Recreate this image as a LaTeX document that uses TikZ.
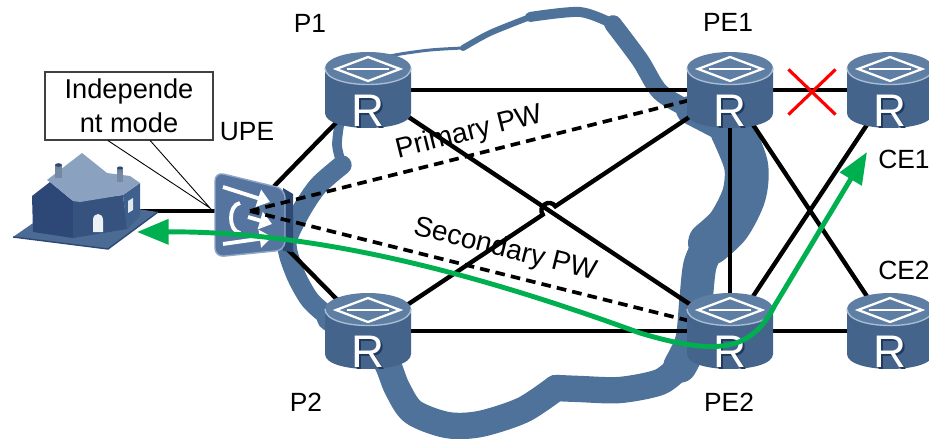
\documentclass[tikz,border=0pt]{standalone}
\usepackage{fontspec}
\setmainfont{Liberation Sans}
\usetikzlibrary{calc,arrows.meta,shapes.misc}

\definecolor{cloudblue}{HTML}{4E7299}
\definecolor{routertop}{HTML}{5E7EA4}
\definecolor{routerside}{HTML}{45648C}
\definecolor{routerrim}{HTML}{A9BDD3}
\definecolor{routershadow}{HTML}{213A5C}
\definecolor{upefront}{HTML}{5674A0}
\definecolor{upeside}{HTML}{2E4A74}
\definecolor{upeedge}{HTML}{8FA7C6}
\definecolor{pathgreen}{HTML}{00B050}
\definecolor{roofgrey}{HTML}{8AA2BF}
\definecolor{walldark}{HTML}{2D4877}
\definecolor{wallmid}{HTML}{36527F}
\definecolor{wallside}{HTML}{3F5F8C}
\definecolor{plateblue}{HTML}{4B6B95}

\tikzset{
  link/.style={line width=2.5pt},
  pw/.style={line width=2.1pt, dash pattern=on 5.5pt off 3.5pt},
  lbl/.style={font=\fontsize{15}{18}\selectfont},
  pwlbl/.style={font=\fontsize{16}{19}\selectfont},
  band/.style={cloudblue, line cap=round, line join=round},
  notebox/.style={draw=black!75, line width=0.6pt, fill=white, align=center,
    minimum width=3.36cm, minimum height=1.36cm, inner sep=0pt,
    font=\fontsize{15.5}{19.3}\selectfont},
  upearrow/.style={white, line width=2.2pt, -{Triangle[length=7pt,width=10pt]}},
  router/.pic={
    \fill[routerside] (-43,-22) -- (-43,23) .. controls (-43,43) and (43,43) .. (43,23) -- (43,-22) -- cycle;
    \fill[routertop] (0,-22) ellipse [x radius=43, y radius=16];
    \draw[routerrim, line width=0.8pt] (-43,-22) .. controls (-43,0) and (43,0) .. (43,-22);
    \draw[white, line width=1.3pt, line join=miter] (-32,-21) -- (0,-33) -- (32,-21) -- (0,-9) -- cycle;
    \draw[white, line width=1.3pt] (-21,-21) -- (21,-21);
    \node[text=routershadow, font=\fontsize{26}{26}\selectfont] at (1.5,22.5) {R};
    \node[text=white, font=\fontsize{26}{26}\selectfont] at (0,21) {R};
  },
  upe/.pic={
    \fill[upeside] (33,-23) -- (43,-17) -- (43,41) -- (33,40) -- cycle;
    \fill[upefront, draw=upeedge, line width=0.8pt, rounded corners=5pt] (-35,-39) -- (35,-22) -- (35,39) -- (-35,46) -- cycle;
    \draw[upearrow] (-27,-24) -- (20,-9);
    \draw[upearrow] (-2,6) -- (22,13);
    \draw[upearrow] (-27,33) -- (22,26);
    \draw[white, line width=2.2pt] (-10,-8) .. controls (-22,-6) and (-22,20) .. (-10,22);
  },
  house/.pic={
    \fill[plateblue] (-75,26) -- (20,38) -- (70,1) -- (-20,-12) -- cycle;
    \draw[walldark, line width=0.8pt] (-75,26) -- (20,38) -- (70,1);
    \fill[walldark] (-56,-15) -- (-38,-29) -- (-15,-10) -- (-15,27) -- (-55,21) -- cycle;
    \fill[wallmid] (-15,-10) -- (35,-16) -- (39,18) -- (-15,27) -- cycle;
    \fill[wallside] (35,-16) -- (52,-28) -- (52,5) -- (39,18) -- cycle;
    \fill[roofgrey!80!black] (-33,-46) rectangle (-26,-29);
    \fill[roofgrey!80!black] (29,-43) rectangle (35,-25);
    \fill[roofgrey] (-41,-31) -- (-6,-58) -- (19,-38) -- (42,-35) -- (52,-28) -- (35,-16) -- (-8,-9) -- (-15,-10) -- (-38,-29) -- cycle;
    \fill[roofgrey!85!black] (-33,-42) rectangle (-26,-33);
    \fill[roofgrey!85!black] (29,-39) rectangle (35,-29);
    \fill[walldark] (-29.5,-46) ellipse [x radius=3.5, y radius=1.8];
    \fill[walldark] (32,-43) ellipse [x radius=3, y radius=1.6];
    \fill[white!85!roofgrey] (5,21) -- (5,9) .. controls (5,1) and (15,1) .. (15,9) -- (15,21) -- cycle;
    \fill[white!75!roofgrey] (40,-10) -- (45,-13) -- (45,-1) -- (40,2) -- cycle;
  }
}

\begin{document}
\begin{tikzpicture}[x=0.02cm, y=-0.02cm]
  \useasboundingbox (0,0) rectangle (929,439);

  %%%%% devices %%%%%
  \coordinate (P1) at (368,90);
  \coordinate (P2) at (368,331);
  \coordinate (PE1) at (730,90);
  \coordinate (PE2) at (730,331);
  \coordinate (CE1) at (890,90);
  \coordinate (CE2) at (890,331);
  \coordinate (UPE) at (250,211);
  \coordinate (house) at (88,211);

  %%%%% cloud %%%%%
  \draw[band, line width=1.7pt] plot[smooth] coordinates {(340,120) (348,85) (370,62) (395,55) (430,50) (463,48)};
  \draw[band, line width=3.4pt] plot[smooth] coordinates {(463,48) (490,33) (530,17)};
  \draw[band, line width=5.7pt] plot[smooth] coordinates {(530,17) (580,12) (613,24)};
  \draw[band, line width=10pt] plot[smooth] coordinates {(613,24) (640,60) (660,92) (690,110)};
  \draw[band, line width=16pt] plot[smooth] coordinates {(690,110) (738,135)};
  \draw[band, line width=25pt] plot[smooth] coordinates {(732,130) (746,165) (744,195) (729,225) (710,243)};
  \draw[band, line width=19pt] plot[smooth] coordinates {(710,243) (700,265) (696,300) (692,340) (680,366)};
  \draw[band, line width=15pt] plot[smooth] coordinates {(680,366) (660,382) (620,390) (580,389) (556,388)};
  \draw[band, line width=15pt] plot[smooth] coordinates {(556,388) (523,410) (480,424) (447,425) (413,412) (397,388) (385,360) (360,338) (330,318)};
  \draw[band, line width=11pt] plot[smooth] coordinates {(330,318) (310,300) (295,273) (287,243) (300,213) (318,186) (342,165)};
  \draw[band, line width=5.5pt] plot[smooth] coordinates {(342,165) (337,145) (340,120)};

  %%%%% links %%%%%
  \coordinate (X) at ($(P2)!0.5!(PE1)$);
  \coordinate (hopA) at ($(X)!0.15cm!(P2)$);
  \coordinate (hopB) at ($(X)!0.15cm!(PE1)$);

  \draw[link] (house) -- (UPE);
  \draw[link] (UPE) -- (P1);
  \draw[link] (UPE) -- (P2);
  \draw[link] (P1) -- (PE1);
  \draw[link] (P2) -- (PE2);
  \draw[link] (P1) -- (PE2);
  \draw[link] (P2) -- (hopA) to[bend left=90, looseness=1.7] (hopB) -- (PE1);
  \draw[link] (PE1) -- (PE2);
  \draw[link] (PE1) -- (CE1);
  \draw[link] (PE2) -- (CE2);
  \draw[link] (PE1) -- (CE2);
  \draw[link] (PE2) -- (CE1);

  \pic at (UPE) {upe};

  \draw[pw] (UPE) -- (PE1);
  \draw[pw] (UPE) -- (PE2);

  \pic at (P1) {router};
  \pic at (P2) {router};
  \pic at (PE1) {router};
  \pic at (PE2) {router};
  \pic at (CE1) {router};
  \pic at (CE2) {router};

  \pic at (house) {house};

  \node[cross out, draw=red, line width=1.8pt, minimum width=0.88cm, minimum height=0.84cm] (cut) at (812,92) {};

  %%%%% traffic path %%%%%
  \coordinate (gHouse) at (137,232);
  \coordinate (gCE) at (867,152);
  \draw[pathgreen, line width=2.8pt, {Triangle[length=18pt,width=14pt]}-{Triangle[length=18pt,width=14pt]}]
    (gHouse) .. controls (330,231) and (500,282) .. (640,333) .. controls (720,357) and (752,350) .. (775,305) -- (gCE);

  %%%%% labels %%%%%
  \node[pwlbl, rotate=14] (lprim) at (469,133) {Primary PW};
  \node[pwlbl, rotate=-14] (lsec) at (505,250) {Secondary PW};

  \node[lbl] (lP1) at (310,23) {P1};
  \node[lbl] (lP2) at (306,402) {P2};
  \node[lbl] (lPE1) at (728,22) {PE1};
  \node[lbl] (lPE2) at (729,402) {PE2};
  \node[lbl, anchor=west, inner sep=0pt] (lCE1) at (878,159) {CE1};
  \node[lbl, anchor=west, inner sep=0pt] (lCE2) at (878,270) {CE2};
  \node[lbl] (lUPE) at (247,132) {UPE};

  \node[notebox] (note) at (129,106) {Independe\\nt mode};
  \coordinate (tipUPE) at (210,208);
  \draw[line width=0.5pt] ($(note.south west)!0.375!(note.south east)$) -- (tipUPE) -- ($(note.south west)!0.625!(note.south east)$);
\end{tikzpicture}
\end{document}
